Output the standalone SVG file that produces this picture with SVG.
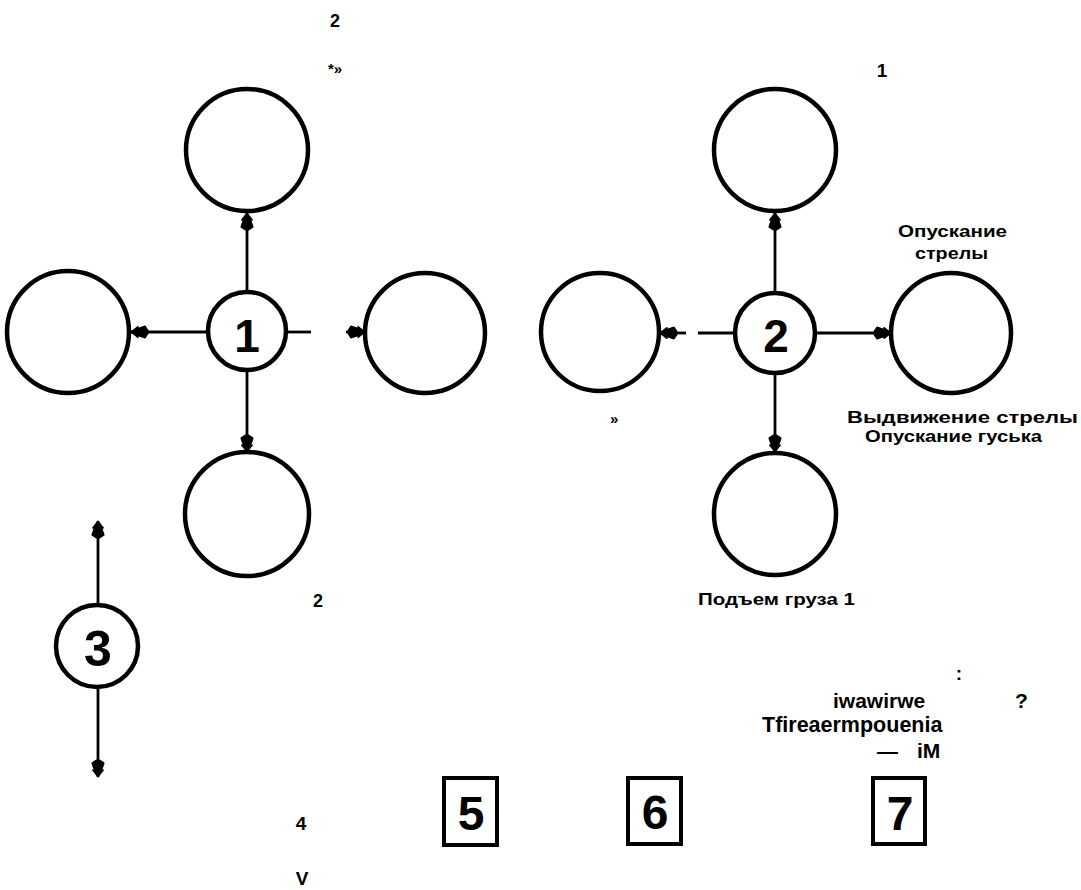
<svg xmlns="http://www.w3.org/2000/svg" width="1081" height="890" viewBox="0 0 1081 890">
<style>
.big{fill:#fff;stroke:#000;stroke-width:4.5}
.hub{fill:#fff;stroke:#000;stroke-width:4.5}
.box{fill:#fff;stroke:#000;stroke-width:4}
.con{stroke:#000;stroke-width:2.8;fill:none}
.dig{font-family:"Liberation Sans",Arial,sans-serif;font-weight:bold;font-size:46px;text-anchor:middle;fill:#000}
.lbl{font-family:"Liberation Sans",Arial,sans-serif;font-weight:bold;fill:#000}
.ru{font-family:"Liberation Sans",Arial,sans-serif;font-weight:bold;font-size:16px;fill:#000}
</style>
<defs>
<marker id="ah" markerUnits="userSpaceOnUse" markerWidth="20" markerHeight="16" viewBox="-19 -8 20 16" refX="0" refY="0" orient="auto">
<path d="M0,0 L-7,-5.5 L-6.5,-3.5 L-14,-6 L-17,-1.5 L-17,1.5 L-14,6 L-6.5,3.5 L-7,5.5 Z" fill="#000" stroke="#000" stroke-width="1.2" stroke-linejoin="round"/>
</marker>
</defs>
<rect width="1081" height="890" fill="#fff"/>

<g id="connectors">
<line class="con" x1="247" y1="292" x2="247" y2="213" marker-end="url(#ah)"/>
<line class="con" x1="207" y1="332" x2="131" y2="332" marker-end="url(#ah)"/>
<line class="con" x1="287" y1="332" x2="311" y2="332"/>
<line class="con" x1="346" y1="332" x2="365" y2="332" marker-end="url(#ah)"/>
<line class="con" x1="247" y1="371" x2="247" y2="452" marker-end="url(#ah)"/>
<line class="con" x1="775" y1="293" x2="775" y2="213" marker-end="url(#ah)"/>
<line class="con" x1="735" y1="333" x2="698" y2="333"/>
<line class="con" x1="686" y1="333" x2="660" y2="333" marker-end="url(#ah)"/>
<line class="con" x1="815" y1="333" x2="891" y2="333" marker-end="url(#ah)"/>
<line class="con" x1="775" y1="373" x2="775" y2="452" marker-end="url(#ah)"/>
<line class="con" x1="98" y1="604" x2="98" y2="521" marker-end="url(#ah)"/>
<line class="con" x1="98" y1="688" x2="98" y2="777" marker-end="url(#ah)"/>
</g>

<g id="c1-top"><circle class="big" cx="247" cy="150" r="61"/></g>
<g id="c1-left"><circle class="big" cx="68" cy="332" r="61"/></g>
<g id="c1-right"><circle class="big" cx="425" cy="333" r="60"/></g>
<g id="c1-bottom"><circle class="big" cx="247" cy="514" r="62"/></g>
<g id="n1"><circle class="hub" cx="247" cy="331" r="39"/><text class="dig" x="247" y="352">1</text></g>

<g id="c2-top"><circle class="big" cx="775" cy="150" r="61"/></g>
<g id="c2-left"><circle class="big" cx="600" cy="332" r="59"/></g>
<g id="c2-right"><circle class="big" cx="951" cy="333" r="60"/></g>
<g id="c2-bottom"><circle class="big" cx="775" cy="514" r="61"/></g>
<g id="n2"><circle class="hub" cx="775" cy="333" r="40"/><text class="dig" x="776" y="352">2</text></g>

<g id="n3"><circle class="hub" cx="97" cy="646" r="41"/><text class="dig" x="98" y="666" style="font-size:50px">3</text></g>

<g id="n5"><rect class="box" x="444" y="778" width="53" height="67"/><text class="dig" x="471" y="830" style="font-size:48px">5</text></g>
<g id="n6"><rect class="box" x="628" y="778" width="53" height="66"/><text class="dig" x="655" y="829" style="font-size:48px">6</text></g>
<g id="n7"><rect class="box" x="873" y="778" width="52" height="66"/><text class="dig" x="900" y="830" style="font-size:48px">7</text></g>

<g id="labels">
<text class="ru" x="898" y="237" textLength="109" lengthAdjust="spacingAndGlyphs">Опускание</text>
<text class="ru" x="915" y="259" textLength="73" lengthAdjust="spacingAndGlyphs">стрелы</text>
<text class="ru" x="847" y="423" textLength="231" lengthAdjust="spacingAndGlyphs">Выдвижение стрелы</text>
<text class="ru" x="865" y="442" textLength="177" lengthAdjust="spacingAndGlyphs">Опускание гуська</text>
<text class="ru" x="698" y="605" textLength="157" lengthAdjust="spacingAndGlyphs">Подъем груза 1</text>

<text class="lbl" x="335" y="27" font-size="18" text-anchor="middle">2</text>
<text class="lbl" x="328" y="74" font-size="15">*»</text>
<text class="lbl" x="882" y="77" font-size="19" text-anchor="middle">1</text>
<text class="lbl" x="610" y="424" font-size="15">»</text>
<text class="lbl" x="318" y="607" font-size="18" text-anchor="middle">2</text>
<text class="lbl" x="301" y="830" font-size="19" text-anchor="middle">4</text>
<text class="lbl" x="302" y="885" font-size="19" text-anchor="middle">V</text>
<text class="lbl" x="959" y="680" font-size="19" text-anchor="middle">:</text>
<text class="lbl" x="833" y="708" font-size="21">iwawirwe</text>
<text class="lbl" x="1015" y="708" font-size="21">?</text>
<text class="lbl" x="762" y="732" font-size="21.5">Tfireaermpouenia</text>
<text class="lbl" x="877" y="758" font-size="21">—</text>
<text class="lbl" x="917" y="758" font-size="21">iM</text>
</g>
</svg>
